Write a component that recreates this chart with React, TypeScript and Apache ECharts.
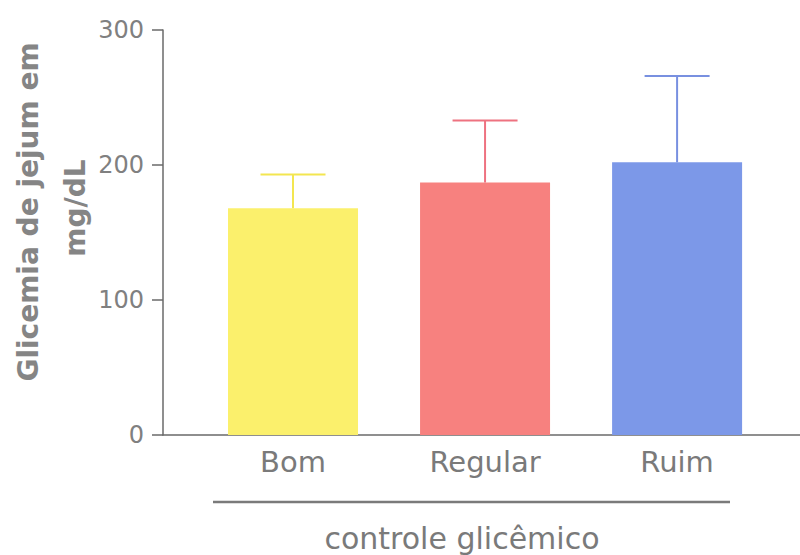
import React, { useEffect, useRef } from "react";
import * as echarts from "echarts";

// Fasting glycemia by glycemic-control group
const categories = ["Bom", "Regular", "Ruim"];
const means = [168, 187, 202];
const sds = [25, 46, 64];
const barColors = ["#fbf06c", "#f7817f", "#7c98e8"];
const errColors = ["#f3e650", "#ee7280", "#7890e0"];
const yTicks = [0, 100, 200, 300];

const FONT = "DejaVu Sans";
const GREY = "#808080";

export default function App() {
  const ref = useRef<HTMLDivElement>(null);

  useEffect(() => {
    document.body.style.margin = "0";
    if (!ref.current) return;
    const chart = echarts.init(ref.current, null, { renderer: "svg" });

    const barData = means.map((m, i) => ({
      value: [i, m],
      itemStyle: { color: barColors[i] },
    }));
    const errData = means.map((m, i) => [i, m, m + sds[i]]);

    chart.setOption({
      animation: false,
      backgroundColor: "#ffffff",
      grid: { left: 163, right: 0, top: 30, bottom: 120 },
      xAxis: {
        type: "value",
        min: -0.677,
        max: 2.64,
        splitLine: { show: false },
        axisLine: { show: true, onZero: false, lineStyle: { color: "#6a6a6a", width: 1.5 } },
        axisTick: { show: false },
        axisLabel: {
          customValues: [0, 1, 2],
          formatter: (v: number) => categories[Math.round(v)] ?? "",
          fontFamily: FONT,
          fontSize: 29,
          color: "#7a7a7a",
          margin: 12,
        },
      },
      yAxis: {
        type: "value",
        min: yTicks[0],
        max: yTicks[yTicks.length - 1],
        interval: 100,
        splitLine: { show: false },
        axisLine: { show: true, onZero: false, lineStyle: { color: "#6a6a6a", width: 1.5 } },
        axisTick: { show: true, length: 11, lineStyle: { color: "#6a6a6a", width: 1.5 } },
        axisLabel: {
          fontFamily: FONT,
          fontSize: 24,
          color: GREY,
          margin: 19,
        },
      },
      series: [
        {
          type: "bar",
          data: barData,
          barWidth: 130,
          z: 2,
        },
        {
          type: "custom",
          z: 3,
          data: errData,
          renderItem: (params: any, api: any) => {
            const i = api.value(0);
            const base = api.coord([i, api.value(1)]);
            const top = api.coord([i, api.value(2)]);
            const color = errColors[params.dataIndex];
            const half = 32.5;
            return {
              type: "group",
              children: [
                {
                  type: "line",
                  shape: { x1: base[0], y1: base[1], x2: top[0], y2: top[1] },
                  style: { stroke: color, lineWidth: 2 },
                },
                {
                  type: "line",
                  shape: { x1: top[0] - half, y1: top[1], x2: top[0] + half, y2: top[1] },
                  style: { stroke: color, lineWidth: 2 },
                },
              ],
            };
          },
        },
      ],
      graphic: [
        {
          type: "text",
          x: 28,
          y: 212,
          rotation: Math.PI / 2,
          style: {
            text: "Glicemia de jejum em",
            fontFamily: FONT,
            fontWeight: "bold",
            fontSize: 28,
            fill: "#858585",
            align: "center",
            verticalAlign: "middle",
          },
        },
        {
          type: "text",
          x: 75,
          y: 208,
          rotation: Math.PI / 2,
          style: {
            text: "mg/dL",
            fontFamily: FONT,
            fontWeight: "bold",
            fontSize: 28,
            fill: "#858585",
            align: "center",
            verticalAlign: "middle",
          },
        },
        {
          type: "line",
          shape: { x1: 213, y1: 502, x2: 730, y2: 502 },
          style: { stroke: "#7a7a7a", lineWidth: 2.5 },
        },
        {
          type: "text",
          x: 462,
          y: 538,
          style: {
            text: "controle glicêmico",
            fontFamily: FONT,
            fontSize: 30,
            fill: "#7a7a7a",
            align: "center",
            verticalAlign: "middle",
          },
        },
      ],
    });

    return () => chart.dispose();
  }, []);

  return <div ref={ref} style={{ width: 800, height: 555 }} />;
}
